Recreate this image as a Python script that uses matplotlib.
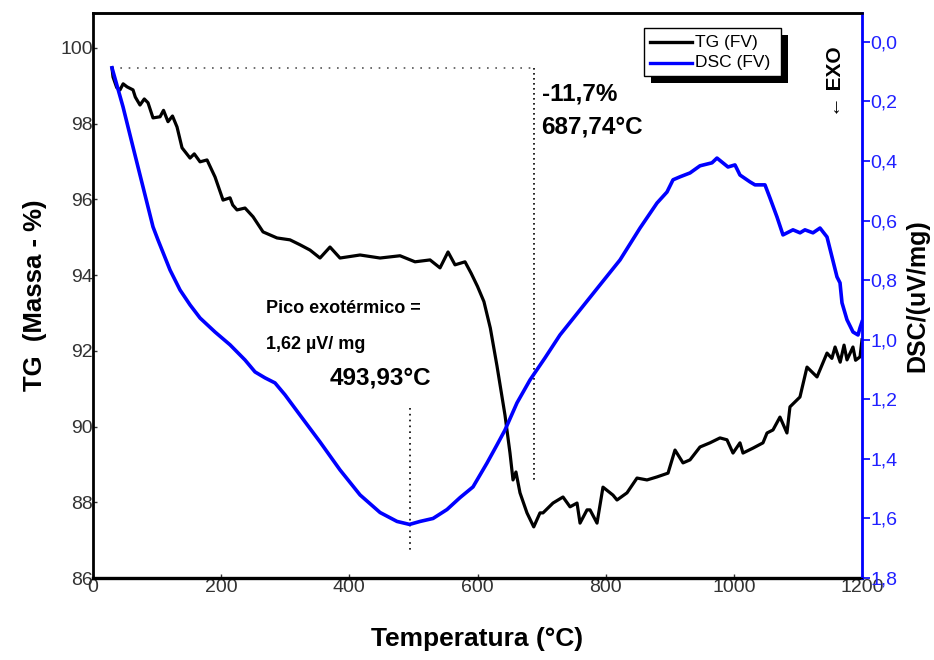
import matplotlib.pyplot as plt
from matplotlib.patches import Rectangle
from matplotlib.lines import Line2D
from matplotlib.ticker import FuncFormatter

plt.rcParams['font.family'] = ['Liberation Sans', 'DejaVu Sans']

# TG curve (FV): temperature (°C) and mass (%)
tg_temp = [29.6, 31.2, 37.0, 42.1, 47.0, 53.1, 62.4, 66.0, 73.3, 80.0, 85.8, 93.6, 104.6,
           110.0, 117.0, 124.0, 131.1, 138.9, 151.4, 158.0, 167.0, 177.9, 190.4, 202.9,
           213.8, 218.0, 224.7, 237.2, 249.7, 265.3, 287.1, 307.4, 323.0, 338.6, 354.2,
           369.8, 385.4, 416.7, 447.9, 479.1, 502.5, 525.9, 541.5, 554.0, 564.9, 580.5,
           590.0, 600.0, 610.0, 620.0, 630.4, 642.9, 650.7, 655.4, 660.0, 666.3, 677.2,
           687.74, 697.5, 702.2, 717.8, 733.4, 744.4, 755.3, 760.0, 770.9, 775.6, 786.5,
           795.8, 811.4, 817.7, 833.3, 848.9, 864.5, 880.1, 897.3, 908.2, 920.7, 931.6,
           947.2, 962.8, 978.4, 989.3, 998.7, 1009.6, 1014.3, 1029.9, 1045.5, 1051.8,
           1061.1, 1072.0, 1082.9, 1087.6, 1103.2, 1114.2, 1129.8, 1145.4, 1153.0,
           1158.0, 1166.0, 1172.0, 1176.6, 1185.9, 1190.0, 1196.9, 1200.0]
tg_mass = [99.47, 99.23, 98.95, 98.89, 99.05, 98.97, 98.89, 98.70, 98.49, 98.65, 98.55,
           98.15, 98.18, 98.35, 98.05, 98.20, 97.91, 97.36, 97.09, 97.20, 96.99, 97.04,
           96.59, 95.98, 96.04, 95.85, 95.72, 95.77, 95.54, 95.14, 94.98, 94.93, 94.80,
           94.66, 94.45, 94.74, 94.45, 94.53, 94.45, 94.51, 94.35, 94.40, 94.19, 94.61,
           94.27, 94.35, 94.05, 93.70, 93.30, 92.60, 91.60, 90.30, 89.30, 88.59, 88.80,
           88.25, 87.72, 87.35, 87.72, 87.72, 87.98, 88.14, 87.88, 87.98, 87.45, 87.80,
           87.80, 87.45, 88.40, 88.19, 88.06, 88.25, 88.64, 88.59, 88.67, 88.77, 89.38,
           89.04, 89.12, 89.46, 89.57, 89.70, 89.65, 89.30, 89.57, 89.30, 89.43, 89.57,
           89.83, 89.91, 90.25, 89.83, 90.52, 90.78, 91.57, 91.31, 91.94, 91.80, 92.10,
           91.70, 92.15, 91.76, 92.10, 91.75, 91.84, 92.29]

# DSC curve (FV): temperature (°C) and signal magnitude (uV/mg)
dsc_temp = [29.6, 46.8, 62.4, 78.0, 93.6, 101.4, 120.2, 135.8, 151.4, 167.0, 190.4, 213.8,
            237.2, 252.8, 268.4, 284.0, 299.6, 323.0, 354.2, 385.4, 416.7, 447.9, 474.4,
            493.93, 510.3, 530.6, 552.4, 572.7, 593.0, 614.8, 630.4, 642.9, 661.6, 681.9,
            705.3, 728.7, 759.9, 791.1, 822.4, 853.6, 880.1, 895.7, 905.1, 916.0, 931.6,
            947.2, 965.9, 973.7, 990.9, 1001.8, 1009.6, 1025.2, 1033.0, 1048.6, 1056.4,
            1067.4, 1076.7, 1092.3, 1103.3, 1111.0, 1123.5, 1134.5, 1145.4, 1153.2, 1161.0,
            1165.7, 1168.8, 1176.6, 1186.0, 1193.8, 1196.9, 1200.0]
dsc_val = [0.087, 0.218, 0.353, 0.487, 0.621, 0.665, 0.766, 0.833, 0.883, 0.927, 0.974, 1.017,
           1.068, 1.108, 1.128, 1.145, 1.185, 1.253, 1.343, 1.437, 1.521, 1.580, 1.610,
           1.62, 1.610, 1.600, 1.570, 1.530, 1.494, 1.414, 1.353, 1.303, 1.212, 1.135,
           1.061, 0.984, 0.900, 0.816, 0.732, 0.625, 0.541, 0.504, 0.463, 0.453, 0.440,
           0.416, 0.406, 0.390, 0.420, 0.413, 0.447, 0.470, 0.480, 0.480, 0.524,
           0.588, 0.648, 0.631, 0.641, 0.631, 0.641, 0.625, 0.655, 0.722, 0.789,
           0.809, 0.876, 0.933, 0.974, 0.984, 0.960, 0.940]

x_ticks = [0, 200, 400, 600, 800, 1000, 1200]
tg_ticks = [86, 88, 90, 92, 94, 96, 98, 100]
dsc_ticks = [0.0, 0.2, 0.4, 0.6, 0.8, 1.0, 1.2, 1.4, 1.6, 1.8]

loss_temp, loss_pct = 687.74, -11.7
peak_temp, peak_val = 493.93, 1.62

fig = plt.figure(figsize=(9.34, 6.60), dpi=100)
ax = fig.add_axes([0.0996, 0.1242, 0.8233, 0.8561])
ax2 = ax.twinx()

ax.plot(tg_temp, tg_mass, color='black', lw=2.3, zorder=3)
ax2.plot(dsc_temp, dsc_val, color='#0000ff', lw=2.6, zorder=3)

ax.set_xlim(0, 1200)
ax.set_ylim(86, 100.92)
ax2.set_ylim(1.8, -0.097)

comma = FuncFormatter(lambda v, p: f'{v:.1f}'.replace('.', ','))
ax.set_xticks(x_ticks)
ax.set_yticks(tg_ticks)
ax2.set_yticks(dsc_ticks)
ax2.yaxis.set_major_formatter(comma)

ax.tick_params(axis='x', direction='in', length=3, width=1, pad=1, colors='#333333',
               labelsize=14)
ax.tick_params(axis='y', direction='in', length=3, width=1, pad=0, colors='#333333',
               labelsize=14)
ax2.tick_params(axis='y', direction='out', length=6, width=1.2, pad=0, colors='#0000ff',
                labelsize=14, labelcolor='#2020ff')

for s, w in [('left', 2.0), ('bottom', 2.4), ('top', 1.8)]:
    ax.spines[s].set_linewidth(w)
ax2.spines['right'].set_color('#0000ff')
ax2.spines['right'].set_linewidth(2.0)
ax2.spines['left'].set_visible(False)
ax2.spines['top'].set_linewidth(1.8)

ax.set_xlabel('Temperatura (°C)', fontsize=19, fontweight='bold', labelpad=22)
ax.set_ylabel('TG  (Massa - %)', fontsize=18.5, fontweight='bold', labelpad=10)
ax2.set_ylabel('DSC/(uV/mg)', fontsize=18, fontweight='bold', labelpad=6)

# mass-loss marker: level of the start and the minimum temperature
ax.plot([tg_temp[0], loss_temp], [tg_mass[0], tg_mass[0]], color='#555555', lw=1.2,
        ls=(0, (1, 4)), zorder=2)
ax.plot([loss_temp, loss_temp], [tg_mass[0], 88.5], color='black', lw=1.2,
        ls=(0, (1, 2)), zorder=2)
ax.text(700, 98.6, f'{loss_pct:.1f}%'.replace('.', ','), fontsize=17.5, fontweight='bold')
ax.text(700, 97.75, f'{loss_temp:.2f}°C'.replace('.', ','), fontsize=17.5,
        fontweight='bold')

# exothermic peak marker
ax2.plot([peak_temp, peak_temp], [1.23, 1.71], color='black', lw=1.2,
         ls=(0, (1, 2.5)), zorder=2)
ax2.text(270, 0.91, 'Pico exotérmico =', fontsize=13, fontweight='bold')
ax2.text(270, 1.03, f'{peak_val:.2f}'.replace('.', ',') + ' µV/ mg',
         fontsize=13, fontweight='bold')
ax2.text(370, 1.15, f'{peak_temp:.2f}°C'.replace('.', ','), fontsize=17.5,
         fontweight='bold')

ax2.text(1158, 0.135, '← EXO', rotation=90, fontsize=15, fontweight='bold',
         ha='center', va='center')

# boxed legend with solid drop shadow
def fx(px):
    return px / 934

def fy(py):
    return 1 - py / 660

fig.patches.append(Rectangle((fx(651), fy(83)), fx(781) - fx(644), fy(28) - fy(76),
                             transform=fig.transFigure, facecolor='black', zorder=5))
fig.patches.append(Rectangle((fx(644), fy(76)), fx(781) - fx(644), fy(28) - fy(76),
                             transform=fig.transFigure, facecolor='white',
                             edgecolor='black', lw=1.0, zorder=6))
for py, col, lab in [(42, 'black', 'TG (FV)'), (63, '#0000ff', 'DSC (FV)')]:
    fig.lines.append(Line2D([fx(650), fx(692)], [fy(py), fy(py)], color=col, lw=2.4,
                            transform=fig.transFigure, zorder=7))
    fig.text(fx(695), fy(py), lab, fontsize=12.5, va='center', zorder=7)

fig.savefig('out.png', dpi=100)
